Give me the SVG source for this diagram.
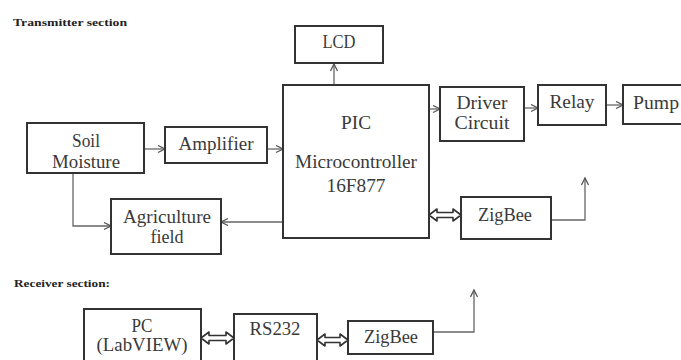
<svg xmlns="http://www.w3.org/2000/svg" width="681" height="360" viewBox="0 0 681 360">
<style>
.box{fill:#fff;stroke:#333;stroke-width:2}
.lbl{font-family:'Liberation Serif','Times New Roman',serif;font-size:18px;fill:#3a3a3a;text-anchor:middle}
.ttl{font-family:'Liberation Serif','Times New Roman',serif;font-size:11px;font-weight:bold;fill:#222}
.con{fill:none;stroke:#666;stroke-width:1.3}
.dbl{fill:#fff;stroke:#333;stroke-width:1.6;stroke-linejoin:round}
</style>
<defs>
<marker id="arr" markerUnits="userSpaceOnUse" markerWidth="10" markerHeight="10" refX="8" refY="4" orient="auto">
<path d="M1,0.5 L8,4 L1,7.5" fill="none" stroke="#555" stroke-width="1.3"/>
</marker>
</defs>
<rect width="681" height="360" fill="#fff"/>
<text class="ttl" x="13" y="26" textLength="114" lengthAdjust="spacingAndGlyphs">Transmitter section</text>
<text class="ttl" x="14" y="287" textLength="96" lengthAdjust="spacingAndGlyphs">Receiver section:</text>

<g id="connectors">
<path class="con" d="M334,85 V64" marker-end="url(#arr)"/>
<path class="con" d="M429,109 H440" marker-end="url(#arr)"/>
<path class="con" d="M524,108 H538" marker-end="url(#arr)"/>
<path class="con" d="M606,105 H623" marker-end="url(#arr)"/>
<path class="con" d="M144,149 H165" marker-end="url(#arr)"/>
<path class="con" d="M267,149 H283" marker-end="url(#arr)"/>
<path class="con" d="M73,173 V226 H111" marker-end="url(#arr)"/>
<path class="con" d="M283,222 H221" marker-end="url(#arr)"/>
<path class="con" d="M551,220 H585 V178" marker-end="url(#arr)"/>
<path class="con" d="M433,332 H474 V290" marker-end="url(#arr)"/>
<path class="dbl" d="M429,215 L437,209 L437,212.5 L453,212.5 L453,209 L461,215 L453,221 L453,217.5 L437,217.5 L437,221 Z"/>
<path class="dbl" d="M201,338 L209,332 L209,335.5 L226,335.5 L226,332 L234,338 L226,344 L226,340.5 L209,340.5 L209,344 Z"/>
<path class="dbl" d="M317,340 L325,334 L325,337.5 L340,337.5 L340,334 L348,340 L340,346 L340,342.5 L325,342.5 L325,346 Z"/>
</g>

<g id="lcd"><rect class="box" x="295" y="26" width="88" height="37"/><text class="lbl" x="339" y="48" textLength="33" lengthAdjust="spacingAndGlyphs">LCD</text></g>
<g id="pic"><rect class="box" x="283" y="85" width="146" height="153"/>
<text class="lbl" x="356" y="129" textLength="30" lengthAdjust="spacingAndGlyphs">PIC</text>
<text class="lbl" x="356" y="168" textLength="122" lengthAdjust="spacingAndGlyphs">Microcontroller</text>
<text class="lbl" x="356" y="192" textLength="59" lengthAdjust="spacingAndGlyphs">16F877</text></g>
<g id="driver"><rect class="box" x="440" y="87" width="84" height="54"/>
<text class="lbl" x="482" y="109" textLength="51" lengthAdjust="spacingAndGlyphs">Driver</text>
<text class="lbl" x="482" y="129" textLength="55" lengthAdjust="spacingAndGlyphs">Circuit</text></g>
<g id="relay"><rect class="box" x="538" y="85" width="68" height="40"/><text class="lbl" x="572" y="108" textLength="45" lengthAdjust="spacingAndGlyphs">Relay</text></g>
<g id="pump"><rect class="box" x="623" y="85" width="70" height="39"/><text class="lbl" x="656" y="109" textLength="46" lengthAdjust="spacingAndGlyphs">Pump</text></g>
<g id="soil"><rect class="box" x="27" y="123" width="117" height="50"/>
<text class="lbl" x="86" y="147" textLength="28" lengthAdjust="spacingAndGlyphs">Soil</text>
<text class="lbl" x="86" y="168" textLength="68" lengthAdjust="spacingAndGlyphs">Moisture</text></g>
<g id="amplifier"><rect class="box" x="165" y="127" width="102" height="36"/><text class="lbl" x="216" y="150" textLength="75" lengthAdjust="spacingAndGlyphs">Amplifier</text></g>
<g id="field"><rect class="box" x="111" y="199" width="110" height="55"/>
<text class="lbl" x="167" y="223" textLength="88" lengthAdjust="spacingAndGlyphs">Agriculture</text>
<text class="lbl" x="167" y="243" textLength="33" lengthAdjust="spacingAndGlyphs">field</text></g>
<g id="zigbee-tx"><rect class="box" x="461" y="197" width="90" height="42"/><text class="lbl" x="505" y="221" textLength="54" lengthAdjust="spacingAndGlyphs">ZigBee</text></g>
<g id="pc"><rect class="box" x="84" y="309" width="117" height="60"/>
<text class="lbl" x="142" y="332" textLength="21" lengthAdjust="spacingAndGlyphs">PC</text>
<text class="lbl" x="142" y="351" textLength="91" lengthAdjust="spacingAndGlyphs">(LabVIEW)</text></g>
<g id="rs232"><rect class="box" x="234" y="314" width="83" height="55"/><text class="lbl" x="275" y="335" textLength="51" lengthAdjust="spacingAndGlyphs">RS232</text></g>
<g id="zigbee-rx"><rect class="box" x="348" y="321" width="85" height="33"/><text class="lbl" x="391" y="343" textLength="54" lengthAdjust="spacingAndGlyphs">ZigBee</text></g>
</svg>
